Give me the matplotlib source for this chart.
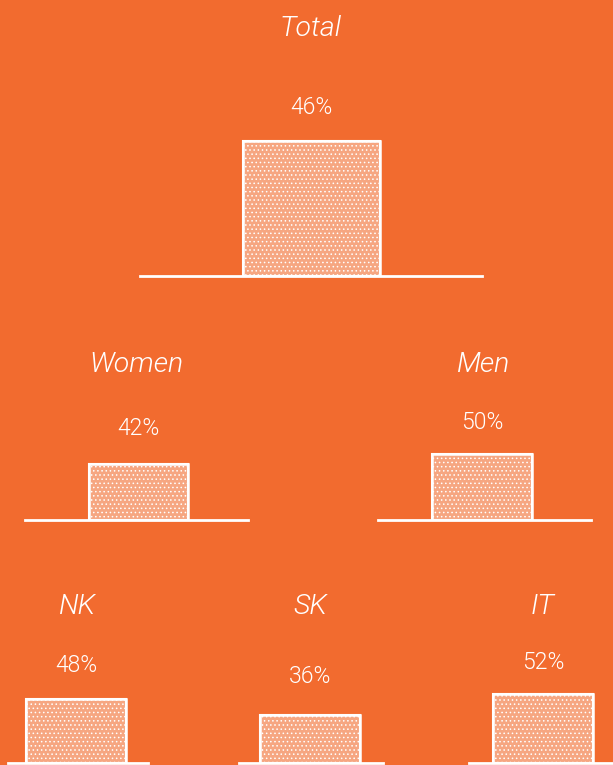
import matplotlib
matplotlib.use("Agg")
import matplotlib.pyplot as plt

plt.rcParams['hatch.linewidth'] = 0.6

# Data
groups = ["Total", "Women", "Men", "NK", "SK", "IT"]
values = [46, 42, 50, 48, 36, 52]
labels = [f"{v}%" for v in values]

BG = "#F26B2F"
BAR = "#F6A681"
FONT = ["Roboto", "DejaVu Sans"]

W, H = 613, 765
fig = plt.figure(figsize=(W / 100, H / 100), dpi=100)
fig.patch.set_facecolor(BG)

# layout per panel (pixels): line x0, line x1, baseline y, px per unit,
# bar center, bar width, label offset, title x, title y
layout = [
    (140, 482, 276, 2.93, 311, 137, 34, 311, 28),
    (25, 248, 520, 1.33, 138, 99, 36, 136, 364),
    (378, 591, 520, 1.33, 482, 100, 31, 484, 364),
    (8, 148, 763, 1.33, 76, 100, 34, 78, 606),
    (239, 383, 763, 1.33, 310, 100, 39, 310, 606),
    (469, 613, 763, 1.33, 543, 100, 31, 543, 606),
]

for g, v, lab, (x0, x1, yb, ppu, bc, bw, off, tx, ty) in zip(groups, values, labels, layout):
    hpx = 180
    ax = fig.add_axes([x0 / W, 1 - yb / H, (x1 - x0) / W, hpx / H])
    ax.set_facecolor("none")
    ax.bar([0], [v], width=1, color=BAR, edgecolor="white", linewidth=1.5,
           hatch="....", zorder=2)
    ax.bar([0], [v], width=1, color="none", edgecolor="white", linewidth=1.8, zorder=3)
    ax.set_xlim((x0 - bc) / bw, (x1 - bc) / bw)
    ax.set_ylim(0, hpx / ppu)
    for s in ["top", "left", "right"]:
        ax.spines[s].set_visible(False)
    ax.spines["bottom"].set_color("white")
    ax.spines["bottom"].set_linewidth(2)
    ax.set_xticks([])
    ax.set_yticks([])
    ax.annotate(lab, xy=(0, v), xytext=(0, off * 0.72), textcoords="offset points",
                ha="center", va="center", color="white", fontsize=16.5,
                family=FONT, weight=300)
    fig.text(tx / W, 1 - ty / H, g, ha="center", va="center",
             color="white", fontsize=20.5, style="italic",
             family=FONT, weight=300)

fig.savefig("out.png", dpi=100, facecolor=BG)
